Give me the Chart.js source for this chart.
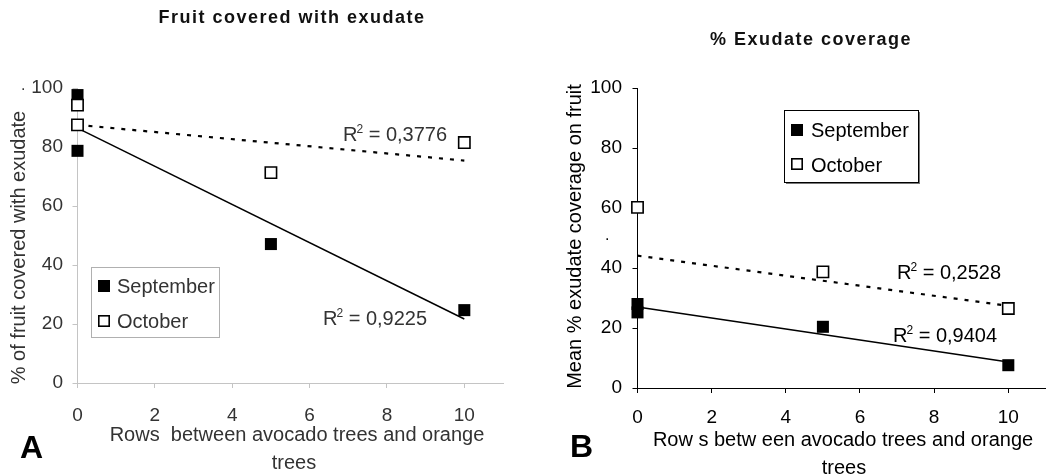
<!DOCTYPE html>
<html><head><meta charset="utf-8">
<script src="https://cdn.jsdelivr.net/npm/chart.js@4.4.0/dist/chart.umd.min.js"></script>
<style>
html,body{margin:0;padding:0;background:#fff;overflow:hidden;}
#wrapA{position:absolute;left:0;top:0;width:520px;height:476px;}
#wrapB{position:absolute;left:520px;top:0;width:535px;height:476px;}
</style></head><body>
<div id="wrapA"><canvas id="cA"></canvas></div>
<div id="wrapB"><canvas id="cB"></canvas></div>
<script>
// ---------- data ----------
const xTicks = [0, 2, 4, 6, 8, 10];
const yTicks = [0, 20, 40, 60, 80, 100];
const seriesNames = ['September', 'October'];

// Panel A : Fruit covered with exudate
const aSepX = [0, 0, 5, 10];
const aSepY = [97.6, 78.7, 47.1, 24.7];
const aOctX = [0, 0, 5, 10];
const aOctY = [94.2, 87.5, 71.3, 81.5];
const aTrendX = [0, 10];
const aSepTrend = [86.4, 21.7];
const aOctTrend = [87.5, 75.4];
const aR2 = ['0,9225', '0,3776'];

// Panel B : % Exudate coverage
const bSepX = [0, 0, 5, 10];
const bSepY = [28.0, 25.2, 20.4, 7.6];
const bOctX = [0, 5, 10];
const bOctY = [60.2, 38.7, 26.5];
const bTrendX = [0, 10];
const bSepTrend = [27.0, 8.7];
const bOctTrend = [44.1, 27.4];
const bR2 = ['0,9404', '0,2528'];

const FONT = "'Liberation Sans', Arial, Helvetica, sans-serif";

function pts(xs, ys) { return xs.map((x, i) => ({x: x, y: ys[i]})); }

function text(ctx, s, x, y, size, opt) {
  opt = opt || {};
  ctx.save();
  ctx.font = (opt.bold ? 'bold ' : '') + size + 'px ' + FONT;
  ctx.fillStyle = opt.color || '#000';
  ctx.textAlign = opt.align || 'left';
  ctx.textBaseline = 'alphabetic';
  if (opt.spacing) { try { ctx.letterSpacing = opt.spacing + 'px'; } catch (e) {} }
  if (opt.rotate) { ctx.translate(x, y); ctx.rotate(opt.rotate); ctx.fillText(s, 0, 0); }
  else ctx.fillText(s, x, y);
  ctx.restore();
}

function r2(ctx, val, x, y, color) {
  ctx.save();
  ctx.font = '20px ' + FONT;
  ctx.fillStyle = color;
  ctx.textBaseline = 'alphabetic';
  ctx.fillText('R', x, y);
  let w = ctx.measureText('R').width;
  ctx.font = '12px ' + FONT;
  ctx.fillText('2', x + w - 1, y - 8);
  const w2 = ctx.measureText('2').width;
  ctx.font = '20px ' + FONT;
  ctx.fillText(' = ' + val, x + w - 1 + w2, y);
  ctx.restore();
}

function legend(ctx, box, rows, border, textColor, shadow) {
  ctx.save();
  ctx.fillStyle = '#fff';
  ctx.fillRect(box.x, box.y, box.w, box.h);
  if (shadow) {
    ctx.fillStyle = '#777';
    ctx.fillRect(box.x + 2, box.y + box.h, box.w, 2);
    ctx.fillRect(box.x + box.w, box.y + 2, 2, box.h);
  }
  ctx.strokeStyle = border;
  ctx.lineWidth = 1;
  ctx.strokeRect(box.x + 0.5, box.y + 0.5, box.w, box.h);
  rows.forEach(r => {
    if (r.filled) {
      ctx.fillStyle = '#000';
      ctx.fillRect(r.mx, r.my, 12, 12);
    } else {
      ctx.fillStyle = '#fff';
      ctx.fillRect(r.mx, r.my, 12, 12);
      ctx.strokeStyle = '#000';
      ctx.lineWidth = 1.6;
      ctx.strokeRect(r.mx + 0.8, r.my + 0.8, 10.4, 10.4);
    }
    text(ctx, r.label, r.tx, r.ty, 20, {color: textColor});
  });
  ctx.restore();
}

function makeConfig(p) {
  const scaleCommon = (isX) => ({
    type: 'linear',
    min: 0,
    max: isX ? 11 : 100,
    afterBuildTicks: s => { s.ticks = (isX ? xTicks : yTicks).map(v => ({value: v})); },
    afterFit: s => { if (isX) s.height = p.xAxisH; else s.width = p.yAxisW; },
    grid: {display: true, drawOnChartArea: false, drawTicks: true, tickLength: 5, color: p.axisColor, lineWidth: 1},
    border: {display: true, color: p.axisColor, width: 1},
    ticks: {
      color: p.textColor,
      font: {family: FONT, size: 19},
      padding: isX ? p.xPad : p.yPad,
      maxRotation: 0,
      autoSkip: false
    }
  });
  const ds = [
    {label: 'trendSep', data: pts(p.trendX, p.sepTrend), showLine: true, borderColor: '#000', borderWidth: 1.5, pointRadius: 0, clip: false, order: 3},
    {label: 'trendOct', data: pts(p.trendX, p.octTrend), showLine: true, borderColor: '#000', borderWidth: 2.2, borderDash: [4, 7], pointRadius: 0, clip: false, order: 2},
    {label: seriesNames[0], data: pts(p.sepX, p.sepY), pointStyle: 'rect', pointRadius: 8.5, pointBackgroundColor: '#000', pointBorderColor: '#000', pointBorderWidth: 0, showLine: false, clip: false, order: 1},
    {label: seriesNames[1], data: pts(p.octX, p.octY), pointStyle: 'rect', pointRadius: 8, pointBackgroundColor: '#fff', pointBorderColor: '#000', pointBorderWidth: 1.6, showLine: false, clip: false, order: 0}
  ];
  return {
    type: 'scatter',
    data: {datasets: ds},
    options: {
      responsive: true,
      maintainAspectRatio: false,
      animation: false,
      events: [],
      layout: {padding: p.padding},
      plugins: {legend: {display: false}, title: {display: false}, tooltip: {enabled: false}},
      scales: {x: scaleCommon(true), y: scaleCommon(false)}
    },
    plugins: [{id: 'decor', afterDraw: p.decor}]
  };
}

// ---------- Panel A ----------
new Chart(document.getElementById('cA'), makeConfig({
  sepX: aSepX, sepY: aSepY, octX: aOctX, octY: aOctY,
  trendX: aTrendX, sepTrend: aSepTrend, octTrend: aOctTrend,
  axisColor: '#c4c4c4', textColor: '#333',
  yAxisW: 77.5, xAxisH: 93, xPad: 16, yPad: 9.5,
  padding: {left: 0, right: 17, top: 88, bottom: 0},
  decor: chart => {
    const ctx = chart.ctx, c = '#333';
    text(ctx, 'Fruit covered with exudate', 292, 23, 18, {bold: true, color: '#111', align: 'center', spacing: 1.5});
    text(ctx, '% of fruit covered with exudate', 25, 247.5, 20, {color: c, align: 'center', rotate: -Math.PI / 2});
    text(ctx, 'Rows  between avocado trees and orange', 297, 441, 20, {color: c, align: 'center'});
    text(ctx, 'trees', 294, 469, 20, {color: c, align: 'center'});
    text(ctx, 'A', 20, 458, 32, {bold: true, color: '#000'});
    text(ctx, '.', 21, 90, 16, {color: c});
    legend(ctx, {x: 91, y: 267, w: 128, h: 70}, [
      {filled: true, mx: 98, my: 280, label: seriesNames[0], tx: 117, ty: 293},
      {filled: false, mx: 98, my: 315, label: seriesNames[1], tx: 117, ty: 328}
    ], '#b0b0b0', c, false);
    r2(ctx, aR2[1], 343, 141, c);
    r2(ctx, aR2[0], 323, 325, c);
  }
}));

// ---------- Panel B ----------
new Chart(document.getElementById('cB'), makeConfig({
  sepX: bSepX, sepY: bSepY, octX: bOctX, octY: bOctY,
  trendX: bTrendX, sepTrend: bSepTrend, octTrend: bOctTrend,
  axisColor: '#000', textColor: '#000',
  yAxisW: 117.5, xAxisH: 88, xPad: 13, yPad: 10.5,
  padding: {left: 0, right: 1, top: 88, bottom: 0},
  decor: chart => {
    const ctx = chart.ctx, c = '#000';
    text(ctx, '% Exudate coverage', 291, 45, 18, {bold: true, color: '#111', align: 'center', spacing: 1.5});
    text(ctx, 'Mean % exudate coverage on fruit', 61, 236.5, 20, {color: c, align: 'center', rotate: -Math.PI / 2});
    text(ctx, 'Row s betw een avocado trees and orange', 323, 446, 20, {color: c, align: 'center'});
    text(ctx, 'trees', 324, 474, 20, {color: c, align: 'center'});
    text(ctx, 'B', 50, 457, 32, {bold: true, color: '#000'});
    text(ctx, '.', 85, 240, 16, {color: c});
    legend(ctx, {x: 264, y: 110, w: 134, h: 72}, [
      {filled: true, mx: 271, my: 124, label: seriesNames[0], tx: 291, ty: 137},
      {filled: false, mx: 271, my: 158, label: seriesNames[1], tx: 291, ty: 172}
    ], '#000', c, true);
    r2(ctx, bR2[1], 377, 279, c);
    r2(ctx, bR2[0], 373, 342, c);
  }
}));
</script>
</body></html>
